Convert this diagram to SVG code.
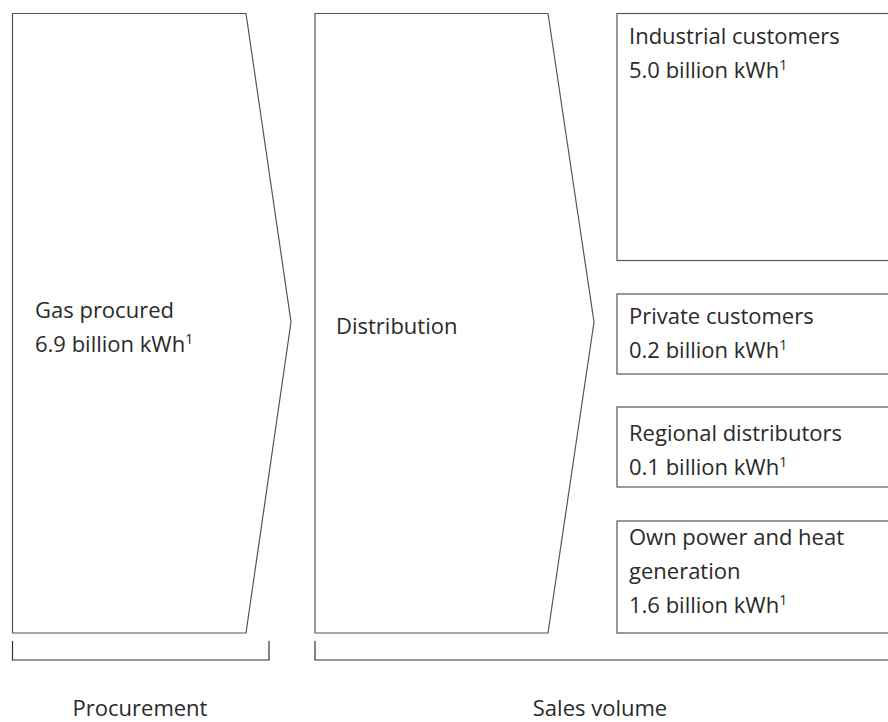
<svg xmlns="http://www.w3.org/2000/svg" width="888" height="722" viewBox="0 0 888 722">
<style>
  .shape { fill: #ffffff; stroke: #555555; stroke-width: 1.2; }
  .br { fill: none; stroke: #333333; stroke-width: 1.2; }
  text { font-family: "Open Sans", "Noto Sans", "Liberation Sans", sans-serif; font-size: 22px; fill: #2a2a2a; }
  .sup { font-size: 14px; }
  .lbl { text-anchor: middle; }
</style>
<rect width="888" height="722" fill="#ffffff"/>
<g id="procurement-node">
  <polygon class="shape" points="12.5,13.5 246,13.5 291,322 246,633 12.5,633"/>
  <text x="35" y="318">Gas procured</text>
  <text x="35" y="352">6.9 billion kWh<tspan class="sup" dy="-8">1</tspan></text>
</g>
<g id="distribution-node">
  <polygon class="shape" points="315,13.5 548,13.5 594,322 548,633 315,633"/>
  <text x="336" y="334">Distribution</text>
</g>
<g id="industrial-node">
  <rect class="shape" x="617" y="13.5" width="280" height="247"/>
  <text x="629" y="44">Industrial customers</text>
  <text x="629" y="78">5.0 billion kWh<tspan class="sup" dy="-8">1</tspan></text>
</g>
<g id="private-node">
  <rect class="shape" x="617" y="294" width="280" height="80"/>
  <text x="629" y="324">Private customers</text>
  <text x="629" y="358">0.2 billion kWh<tspan class="sup" dy="-8">1</tspan></text>
</g>
<g id="regional-node">
  <rect class="shape" x="617" y="407" width="280" height="80"/>
  <text x="629" y="441">Regional distributors</text>
  <text x="629" y="475">0.1 billion kWh<tspan class="sup" dy="-8">1</tspan></text>
</g>
<g id="own-node">
  <rect class="shape" x="617" y="521" width="280" height="112"/>
  <text x="629" y="545">Own power and heat</text>
  <text x="629" y="579">generation</text>
  <text x="629" y="613">1.6 billion kWh<tspan class="sup" dy="-8">1</tspan></text>
</g>
<g id="connectors">
  <polyline class="br" points="12.5,641 12.5,660 269,660 269,641"/>
  <polyline class="br" points="315,641 315,660 890,660"/>
</g>
<g id="labels">
  <text class="lbl" x="140" y="716">Procurement</text>
  <text class="lbl" x="600" y="716">Sales volume</text>
</g>
</svg>
